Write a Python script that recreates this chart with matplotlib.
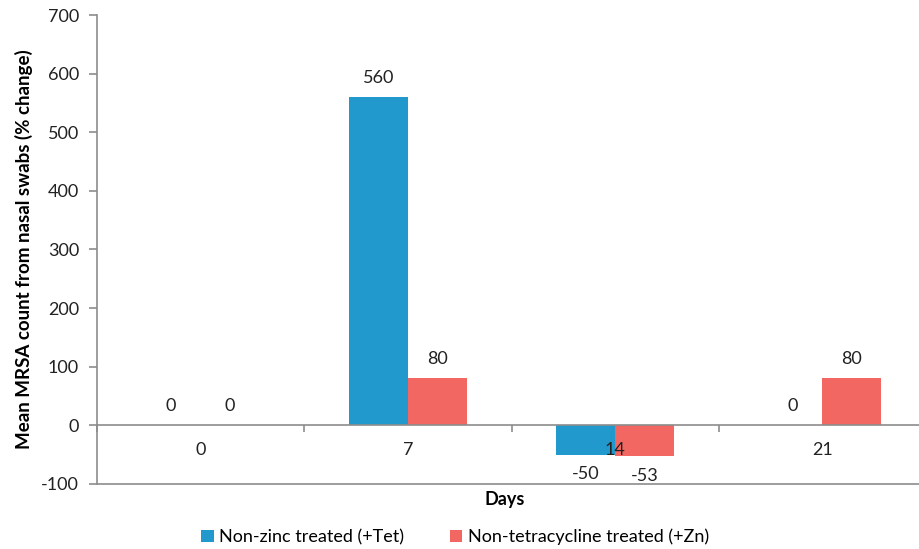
import matplotlib
matplotlib.use("Agg")
import matplotlib.pyplot as plt
import numpy as np

plt.rcParams['font.family'] = ['Lato', 'DejaVu Sans']

days = ['0', '7', '14', '21']
tet = [0, 560, -50, 0]
zn = [0, 80, -53, 80]
series_names = ['Non-zinc treated (+Tet)', 'Non-tetracycline treated (+Zn)']
y_ticks = [-100, 0, 100, 200, 300, 400, 500, 600, 700]

blue = '#2199CC'
red = '#F26762'
grey = '#8C8C8C'
fs = 13

fig = plt.figure(figsize=(9.19, 5.49), dpi=100)
ax = fig.add_axes([97 / 919, 1 - 484 / 549, 829 / 919, (484 - 15) / 549])

x = np.arange(len(days))
w = 0.285
b1 = ax.bar(x - w / 2, tet, w, color=blue, label=series_names[0])
b2 = ax.bar(x + w / 2, zn, w, color=red, label=series_names[1])

# value labels
for bars, vals in [(b1, tet), (b2, zn)]:
    for rect, v in zip(bars, vals):
        cx = rect.get_x() + rect.get_width() / 2
        if v < 0:
            ax.annotate(str(v), (cx, v), xytext=(0, -8), textcoords='offset points',
                        ha='center', va='top', fontsize=fs, color='#222222')
        else:
            ax.annotate(str(v), (cx, v), xytext=(0, 8), textcoords='offset points',
                        ha='center', va='bottom', fontsize=fs, color='#222222')

ax.set_xlim(-0.5, len(days) - 0.5)
ax.set_ylim(-100, 700)
ax.set_yticks(y_ticks)
ax.set_yticklabels([str(t) for t in y_ticks], fontsize=fs, color='#222222')

# category axis sits at zero
ax.spines['bottom'].set_position(('data', 0))
ax.spines['top'].set_visible(False)
ax.spines['right'].set_visible(False)
for s in ['left', 'bottom']:
    ax.spines[s].set_color(grey)
    ax.spines[s].set_linewidth(1.2)
ax.set_xticks(np.arange(len(days) + 1) - 0.5)
ax.set_xticklabels([])
ax.tick_params(axis='x', direction='out', length=5, color=grey, width=1.2)
ax.tick_params(axis='y', direction='out', length=6, color=grey, width=1.2, pad=7)
ax.axhline(-100, color=grey, lw=1.2, clip_on=False)

for xi, d in zip(x, days):
    ax.annotate(d, (xi, 0), xytext=(0, -12), textcoords='offset points',
                ha='center', va='top', fontsize=fs, color='#222222')

ax.set_ylabel('Mean MRSA count from nasal swabs (% change)', fontsize=13.5,
              fontweight='bold', labelpad=6)
fig.text(505 / 919, 1 - 500 / 549, 'Days', ha='center', va='center',
         fontsize=fs, fontweight='bold')

fig.legend(handles=[b1, b2], loc='center', bbox_to_anchor=(455 / 919, 1 - 537 / 549),
           ncol=2, frameon=False, fontsize=fs, handlelength=0.7, handleheight=0.7,
           handletextpad=0.3, columnspacing=2.5)

fig.savefig('out.png', dpi=100)
